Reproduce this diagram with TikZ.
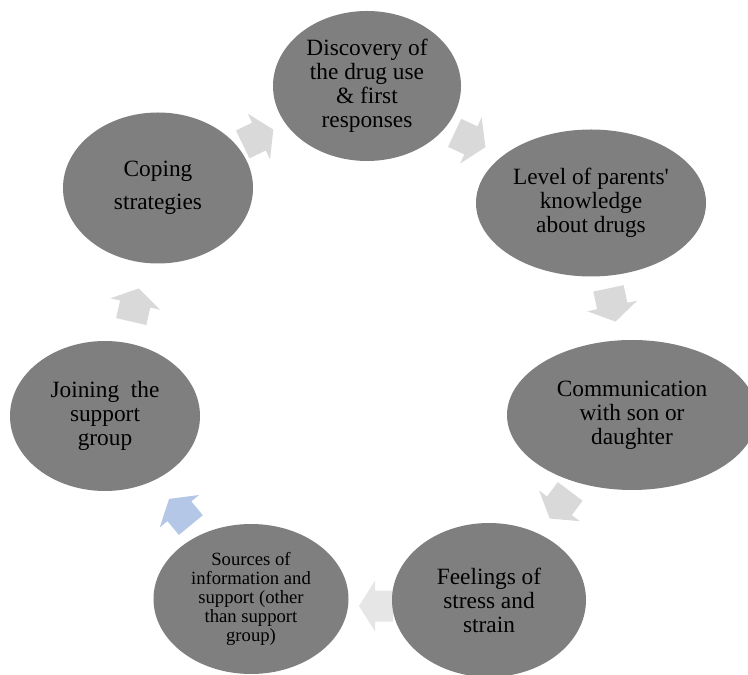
\documentclass[tikz,border=0pt]{standalone}
\usepackage{fontspec}
\setmainfont{Liberation Serif}
\usetikzlibrary{shapes.geometric}
\definecolor{ellgray}{HTML}{7F7F7F}
\definecolor{arrgray}{HTML}{D9D9D9}
\definecolor{arrlight}{HTML}{E6E6E6}
\definecolor{arrblue}{HTML}{B4C7E7}
\begin{document}
\begin{tikzpicture}[x=0.75pt,y=0.75pt,
  stage/.style={ellipse, fill=ellgray, inner sep=0pt, align=center, text=black,
    font=\fontsize{17.5}{18}\selectfont},
  smallstage/.style={stage, font=\fontsize{14}{14.4}\selectfont},
  cyc/.pic={\fill[pic actions] (-17,-15.5) -- (1,-15.5) -- (1,-25.5) -- (17,0) -- (1,25.5) -- (1,15.5) -- (-17,15.5) -- cycle;}
]
\useasboundingbox (0,0) rectangle (748,674);
% arrows
\pic[rotate=26, fill=arrgray] at (258,537) {cyc};
\pic[rotate=-25, fill=arrgray] at (470,534) {cyc};
\pic[rotate=-78, fill=arrgray] at (612,369) {cyc};
\pic[rotate=-127, fill=arrgray] at (560,169) {cyc};
\pic[rotate=180, fill=arrlight] at (376,68) {cyc};
\pic[rotate=129.5, fill=arrblue] at (180,162) {cyc};
\pic[rotate=77, fill=arrgray] at (135,369) {cyc};
% stages
\node[stage, minimum width={188*0.75pt}, minimum height={150*0.75pt}] (disc) at (367,588)
  {Discovery of\\the drug use\\\& first\\responses};
\node[stage, minimum width={230*0.75pt}, minimum height={147*0.75pt}] (know) at (591,471)
  {Level of parents\textquotesingle\\knowledge\\about drugs};
\node[stage, minimum width={250*0.75pt}, minimum height={150*0.75pt}] (comm) at (632,259)
  {Communication\\with son or\\daughter};
\node[stage, minimum width={194*0.75pt}, minimum height={154*0.75pt}] (feel) at (489,74)
  {Feelings of\\stress and\\strain};
\node[smallstage, minimum width={195*0.75pt}, minimum height={150*0.75pt}] (src) at (251,75)
  {Sources of\\information and\\support (other\\than support\\group)};
\node[stage, minimum width={190*0.75pt}, minimum height={150*0.75pt}] (join) at (105,258)
  {Joining\ \ the\\support\\group};
\node[stage, minimum width={190*0.75pt}, minimum height={151*0.75pt}] (cope) at (158,486)
  {\raisebox{0pt}[0pt][0pt]{}Coping\\[6.5pt]strategies};
\end{tikzpicture}
\end{document}
